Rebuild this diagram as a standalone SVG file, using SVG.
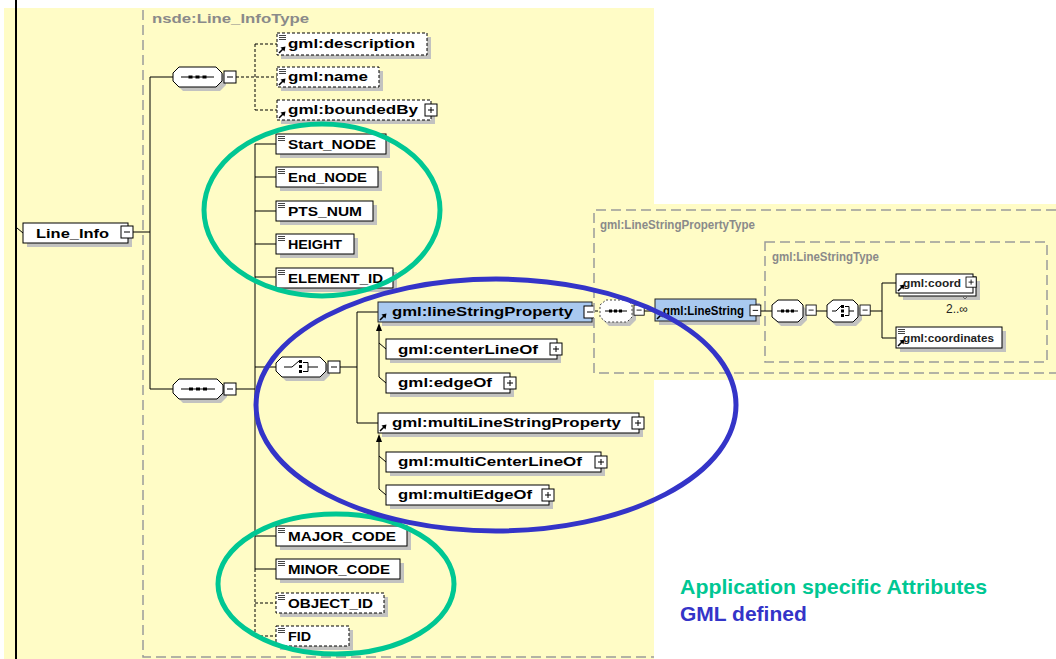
<svg xmlns="http://www.w3.org/2000/svg" width="1056" height="659" viewBox="0 0 1056 659">
<style>
.bg{fill:#fffcc6}
.box{fill:#fff;stroke:#000;stroke-width:1}
.dbox{fill:#fff;stroke:#000;stroke-width:1;stroke-dasharray:3 2}
.bbox{fill:#a9c9ef;stroke:#222;stroke-width:1}
.sh{fill:#c2c2c0}
.nd{fill:#fff;stroke:#000;stroke-width:1}
.dnd{fill:#fff;stroke:#444;stroke-width:1;stroke-dasharray:2 2}
.t{font-family:"Liberation Sans",Arial,sans-serif;font-weight:bold;font-size:13px;fill:#000}
.ts{font-family:"Liberation Sans",Arial,sans-serif;font-weight:bold;font-size:11px;fill:#222}
.gl{font-family:"Liberation Sans",Arial,sans-serif;font-weight:bold;font-size:12px;fill:#8a8a8a}
.ln{stroke:#000;stroke-width:1;fill:none}
.dl{stroke:#000;stroke-width:1;fill:none;stroke-dasharray:3 2}
.fr{stroke:#9a9a9a;stroke-width:1.5;fill:none;stroke-dasharray:10 5}
.ge{fill:none;stroke:#00c793;stroke-width:5}
.be{fill:none;stroke:#3434c8;stroke-width:5}
.lg{font-family:"Liberation Sans",Arial,sans-serif;font-weight:bold;font-size:21px}
</style>
<defs>
<g id="minus"><rect x="0" y="0" width="12" height="12" fill="#fff" stroke="#000"/><path d="M3,6H9" stroke="#000"/></g>
<g id="plus"><rect x="0" y="0" width="12" height="12" fill="#fff" stroke="#000"/><path d="M3,6H9M6,3V9" stroke="#000"/></g>
<g id="simple"><path d="M2,2.5h7M2,4.5h7M2,6.5h7" stroke="#444" stroke-width="1"/></g>
<g id="ref"><path d="M2,-2L6,-6" stroke="#000" stroke-width="1.6"/><path d="M8.5,-8.5L3.5,-7.5L7.5,-3.5Z" fill="#000"/></g>
<g id="dots"><rect x="0" y="0" width="4" height="3" fill="#000"/><rect x="7" y="0" width="4" height="3" fill="#000"/><rect x="14" y="0" width="4" height="3" fill="#000"/></g>
</defs>

<rect class="bg" x="4" y="8" width="650" height="651"/>
<path class="fr" d="M143,10V657H654"/>
<text class="gl" x="152" y="23" textLength="157" lengthAdjust="spacingAndGlyphs">nsde:Line_InfoType</text>

<g id="connectors">
<path d="M16,0V659" stroke="#000" stroke-width="2"/>
<path class="ln" d="M17,228L23,233"/>
<path class="ln" d="M133,232H150M150,77V389M150,77H173M150,389H173"/>
<path class="dl" d="M236,77H277M255,44V110M255,44H277M255,110H277"/>
<path class="ln" d="M236,389H255M255,144V569M255,144H276M255,177H276M255,211H276M255,244H276M255,277H276M255,367H276M255,536H276M255,569H276"/>
<path class="dl" d="M255,569V636M255,603H276M255,636H276"/>
<path class="ln" d="M340,367H357M357,312V423M357,312H378M357,423H378"/>
<path class="ln" d="M379,330V377L386,383M379,343L386,349"/>
<polygon points="379,323 376,331 382,331" fill="#000"/>
<path class="ln" d="M379,441V489L386,495M379,456L386,462"/>
<polygon points="379,434 376,442 382,442" fill="#000"/>
</g>

<g id="Line_Info">
<rect class="sh" x="27" y="227" width="105" height="20"/>
<rect class="box" x="23" y="223" width="105" height="20"/>
<text class="t" x="36" y="238" textLength="73" lengthAdjust="spacingAndGlyphs">Line_Info</text>
<use href="#minus" x="121" y="226"/>
</g>

<g id="seq1">
<polygon class="sh" points="183,71 220,71 226,77 226,85 220,91 183,91 177,85 177,77"/>
<polygon class="nd" points="179,67 216,67 222,73 222,81 216,87 179,87 173,81 173,73"/>
<path class="ln" d="M181,77H214"/>
<use href="#dots" x="188.5" y="75.5"/>
<use href="#minus" x="224" y="71"/>
</g>

<g id="gml_description">
<rect class="sh" x="281" y="37" width="150" height="22"/>
<rect class="dbox" x="277" y="33" width="150" height="22"/>
<use href="#simple" x="277" y="33"/>
<use href="#ref" x="277" y="55"/>
<text class="t" x="288" y="48" textLength="127" lengthAdjust="spacingAndGlyphs">gml:description</text>
</g>
<g id="gml_name">
<rect class="sh" x="281" y="71" width="102" height="20"/>
<rect class="dbox" x="277" y="67" width="102" height="20"/>
<use href="#simple" x="277" y="67"/>
<use href="#ref" x="277" y="87"/>
<text class="t" x="288" y="81" textLength="80" lengthAdjust="spacingAndGlyphs">gml:name</text>
</g>
<g id="gml_boundedBy">
<rect class="sh" x="281" y="104" width="154" height="20"/>
<rect class="dbox" x="277" y="100" width="154" height="20"/>
<use href="#ref" x="277" y="120"/>
<text class="t" x="288" y="114" textLength="130" lengthAdjust="spacingAndGlyphs">gml:boundedBy</text>
<use href="#plus" x="425" y="104"/>
</g>

<g id="Start_NODE">
<rect class="sh" x="280" y="138" width="110" height="20"/>
<rect class="box" x="276" y="134" width="110" height="20"/>
<use href="#simple" x="276" y="134"/>
<text class="t" x="288" y="149" textLength="88" lengthAdjust="spacingAndGlyphs">Start_NODE</text>
</g>
<g id="End_NODE">
<rect class="sh" x="280" y="171" width="102" height="20"/>
<rect class="box" x="276" y="167" width="102" height="20"/>
<use href="#simple" x="276" y="167"/>
<text class="t" x="288" y="182" textLength="79" lengthAdjust="spacingAndGlyphs">End_NODE</text>
</g>
<g id="PTS_NUM">
<rect class="sh" x="280" y="205" width="97" height="20"/>
<rect class="box" x="276" y="201" width="97" height="20"/>
<use href="#simple" x="276" y="201"/>
<text class="t" x="288" y="216" textLength="74" lengthAdjust="spacingAndGlyphs">PTS_NUM</text>
</g>
<g id="HEIGHT">
<rect class="sh" x="280" y="238" width="78" height="20"/>
<rect class="box" x="276" y="234" width="78" height="20"/>
<use href="#simple" x="276" y="234"/>
<text class="t" x="288" y="249" textLength="54" lengthAdjust="spacingAndGlyphs">HEIGHT</text>
</g>
<g id="ELEMENT_ID">
<rect class="sh" x="280" y="272" width="117" height="20"/>
<rect class="box" x="276" y="268" width="117" height="20"/>
<use href="#simple" x="276" y="268"/>
<text class="t" x="288" y="283" textLength="95" lengthAdjust="spacingAndGlyphs">ELEMENT_ID</text>
</g>

<g id="seq2">
<polygon class="sh" points="183,383 221,383 227,389 227,397 221,403 183,403 177,397 177,389"/>
<polygon class="nd" points="179,379 217,379 223,385 223,393 217,399 179,399 173,393 173,385"/>
<path class="ln" d="M181,389H215"/>
<use href="#dots" x="189" y="387.5"/>
<use href="#minus" x="224" y="383"/>
</g>

<g id="choice1">
<polygon class="sh" points="286,361 324,361 330,367 330,375 324,381 286,381 280,375 280,367"/>
<polygon class="nd" points="282,357 320,357 326,363 326,371 320,377 282,377 276,371 276,363"/>
<path class="ln" d="M284,367H292L299,361"/>
<rect x="299" y="360" width="3" height="3" fill="#000"/><rect x="299" y="365" width="3" height="3" fill="#000"/><rect x="299" y="370" width="3" height="3" fill="#000"/>
<path class="ln" d="M303,362.5H308V371.5H303M308,367H318"/>
<use href="#minus" x="328" y="361"/>
</g>

<g id="gml_lineStringProperty">
<rect class="sh" x="382" y="306" width="214" height="20"/>
<rect class="bbox" x="378" y="302" width="214" height="20"/>
<use href="#ref" x="378" y="322"/>
<text class="t" x="392" y="316" textLength="181" lengthAdjust="spacingAndGlyphs">gml:lineStringProperty</text>
<use href="#minus" x="584" y="306"/>
</g>
<g id="gml_centerLineOf">
<rect class="sh" x="390" y="343" width="171" height="20"/>
<rect class="box" x="386" y="339" width="171" height="20"/>
<text class="t" x="398" y="354" textLength="140" lengthAdjust="spacingAndGlyphs">gml:centerLineOf</text>
<use href="#plus" x="550" y="343"/>
</g>
<g id="gml_edgeOf">
<rect class="sh" x="390" y="377" width="124" height="20"/>
<rect class="box" x="386" y="373" width="124" height="20"/>
<text class="t" x="398" y="387" textLength="94" lengthAdjust="spacingAndGlyphs">gml:edgeOf</text>
<use href="#plus" x="504" y="377"/>
</g>
<g id="gml_multiLineStringProperty">
<rect class="sh" x="382" y="417" width="261" height="20"/>
<rect class="box" x="378" y="413" width="261" height="20"/>
<use href="#ref" x="378" y="433"/>
<text class="t" x="392" y="427" textLength="229" lengthAdjust="spacingAndGlyphs">gml:multiLineStringProperty</text>
<use href="#plus" x="632" y="417"/>
</g>
<g id="gml_multiCenterLineOf">
<rect class="sh" x="390" y="456" width="215" height="20"/>
<rect class="box" x="386" y="452" width="215" height="20"/>
<text class="t" x="398" y="466" textLength="184" lengthAdjust="spacingAndGlyphs">gml:multiCenterLineOf</text>
<use href="#plus" x="595" y="456"/>
</g>
<g id="gml_multiEdgeOf">
<rect class="sh" x="390" y="489" width="163" height="20"/>
<rect class="box" x="386" y="485" width="163" height="20"/>
<text class="t" x="398" y="499" textLength="134" lengthAdjust="spacingAndGlyphs">gml:multiEdgeOf</text>
<use href="#plus" x="542" y="489"/>
</g>

<g id="MAJOR_CODE">
<rect class="sh" x="280" y="530" width="131" height="20"/>
<rect class="box" x="276" y="526" width="131" height="20"/>
<use href="#simple" x="276" y="526"/>
<text class="t" x="288" y="541" textLength="108" lengthAdjust="spacingAndGlyphs">MAJOR_CODE</text>
</g>
<g id="MINOR_CODE">
<rect class="sh" x="280" y="563" width="124" height="20"/>
<rect class="box" x="276" y="559" width="124" height="20"/>
<use href="#simple" x="276" y="559"/>
<text class="t" x="288" y="574" textLength="102" lengthAdjust="spacingAndGlyphs">MINOR_CODE</text>
</g>
<g id="OBJECT_ID">
<rect class="sh" x="280" y="597" width="108" height="20"/>
<rect class="dbox" x="276" y="593" width="108" height="20"/>
<use href="#simple" x="276" y="593"/>
<text class="t" x="288" y="608" textLength="85" lengthAdjust="spacingAndGlyphs">OBJECT_ID</text>
</g>
<g id="FID">
<rect class="sh" x="280" y="630" width="73" height="20"/>
<rect class="dbox" x="276" y="626" width="73" height="20"/>
<use href="#simple" x="276" y="626"/>
<text class="t" x="288" y="641" textLength="23" lengthAdjust="spacingAndGlyphs">FID</text>
</g>

<g id="gml_LineStringPropertyType">
<rect class="bg" x="594" y="204" width="462" height="176"/>
<path class="fr" d="M1056,210H594V373H1056"/>
<text class="gl" x="600" y="229" font-size="11" textLength="155" lengthAdjust="spacingAndGlyphs">gml:LineStringPropertyType</text>
<rect class="fr" x="765" y="242" width="282" height="120"/>
<text class="gl" x="772" y="261" font-size="11" textLength="107" lengthAdjust="spacingAndGlyphs">gml:LineStringType</text>
</g>

<g id="connectors_right">
<path class="dl" d="M595,311H600"/>
<path class="ln" d="M644,311H655M761,311H772M816,311H827M870,311H882M882,283V338M882,283H896M882,338H896"/>
</g>

<g id="seq_opt">
<polygon class="sh" points="609,304 630,304 636,310 636,320 630,326 609,326 603,320 603,310"/>
<polygon class="dnd" points="606,300 627,300 632,305 632,317 627,322 606,322 600,317 600,305"/>
<path class="ln" d="M605,311H627"/>
<rect x="609" y="309.5" width="3" height="3" fill="#000"/><rect x="614" y="309.5" width="3" height="3" fill="#000"/><rect x="619" y="309.5" width="3" height="3" fill="#000"/>
<use href="#minus" transform="translate(634,305) scale(0.85)"/>
</g>

<g id="gml_LineString">
<rect class="sh" x="659" y="303" width="101" height="22"/>
<rect class="bbox" x="655" y="299" width="101" height="22"/>
<use href="#ref" x="655" y="321"/>
<text class="t" x="663" y="315" font-size="12.5" textLength="81" lengthAdjust="spacingAndGlyphs">gml:LineString</text>
<use href="#minus" transform="translate(750,305) scale(0.9)"/>
</g>

<g id="seq3">
<polygon class="sh" points="781,304 801,304 807,310 807,320 801,326 781,326 775,320 775,310"/>
<polygon class="nd" points="778,300 798,300 803,305 803,317 798,322 778,322 772,317 772,305"/>
<path class="ln" d="M777,311H798"/>
<rect x="781" y="309.5" width="3" height="3" fill="#000"/><rect x="786" y="309.5" width="3" height="3" fill="#000"/><rect x="791" y="309.5" width="3" height="3" fill="#000"/>
<use href="#minus" transform="translate(806,305) scale(0.85)"/>
</g>

<g id="choice2">
<polygon class="sh" points="836,304 856,304 862,310 862,320 856,326 836,326 830,320 830,310"/>
<polygon class="nd" points="833,300 853,300 858,305 858,317 853,322 833,322 827,317 827,305"/>
<path class="ln" d="M832,311H836L841,306"/>
<rect x="841" y="305" width="3" height="3" fill="#000"/><rect x="841" y="309.5" width="3" height="3" fill="#000"/><rect x="841" y="314" width="3" height="3" fill="#000"/>
<path class="ln" d="M845,306.5H849V315.5H845M849,311H854"/>
<use href="#minus" transform="translate(860,305) scale(0.85)"/>
</g>

<g id="gml_coord">
<rect class="sh" x="903" y="281" width="77" height="19"/>
<rect class="box" x="899" y="277" width="77" height="19"/>
<rect class="box" x="896" y="274" width="77" height="19"/>
<use href="#ref" x="896" y="293"/>
<text class="ts" x="903" y="287" textLength="58" lengthAdjust="spacingAndGlyphs">gml:coord</text>
<use href="#plus" transform="translate(966,277) scale(0.85)"/>
<path d="M962,296l3,3l3,-3" fill="none" stroke="#666"/>
<text x="946" y="313" font-family="Liberation Sans,Arial,sans-serif" font-size="12" fill="#222">2..∞</text>
</g>

<g id="gml_coordinates">
<rect class="sh" x="900" y="331" width="106" height="21"/>
<rect class="box" x="896" y="327" width="106" height="21"/>
<use href="#simple" x="896" y="327"/>
<use href="#ref" x="896" y="348"/>
<text class="ts" x="903" y="342" textLength="91" lengthAdjust="spacingAndGlyphs">gml:coordinates</text>
</g>

<g id="highlights">
<ellipse class="ge" cx="322" cy="210" rx="118" ry="86"/>
<ellipse class="ge" cx="336" cy="584" rx="118" ry="70"/>
<ellipse class="be" cx="496" cy="405" rx="240" ry="126"/>
</g>

<g id="legend">
<text class="lg" x="680" y="594" fill="#00c793" textLength="307" lengthAdjust="spacingAndGlyphs">Application specific Attributes</text>
<text class="lg" x="680" y="621" fill="#3434c8">GML defined</text>
</g>
</svg>
